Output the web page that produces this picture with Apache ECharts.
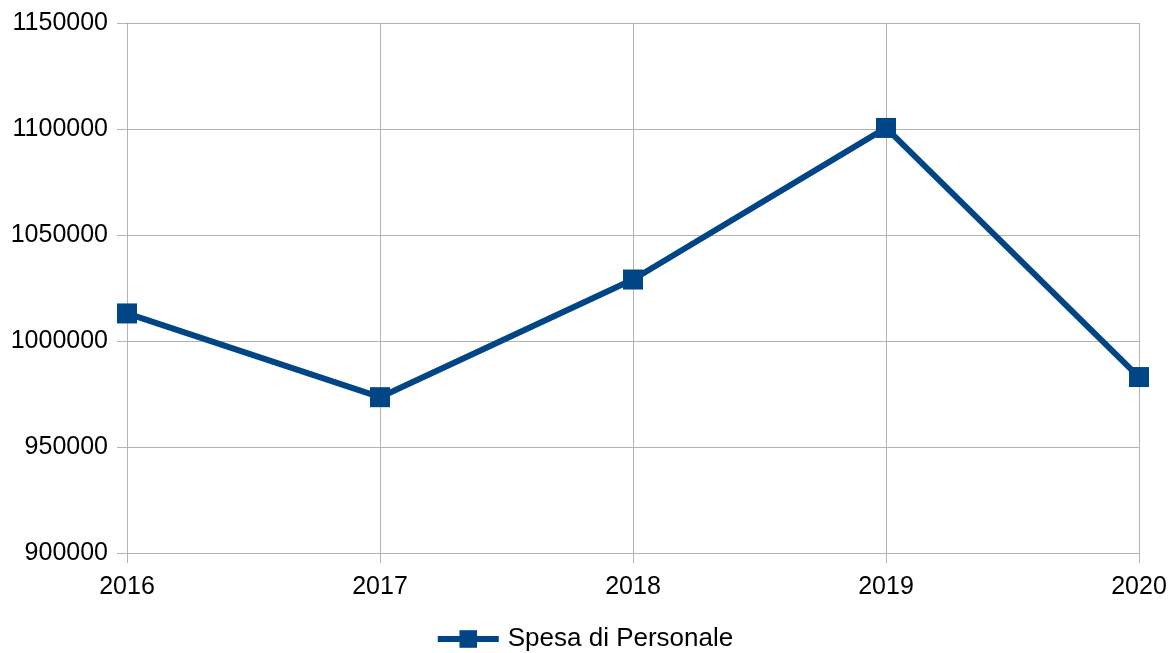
<!DOCTYPE html>
<html>
<head>
<meta charset="utf-8">
<script src="https://cdn.jsdelivr.net/npm/echarts@6/dist/echarts.min.js"></script>
<style>
  html, body { margin: 0; padding: 0; background: #fff; }
  #main { width: 1168px; height: 653px; }
</style>
</head>
<body>
<div id="main"></div>
<script>
// data
const years = ['2016', '2017', '2018', '2019', '2020'];
const spesaPersonale = [1013000, 973500, 1029000, 1100500, 983000];
const seriesName = 'Spesa di Personale';

const lineColor = '#004586';
const gridColor = '#b3b3b3';
const font = '"Liberation Sans", Arial, sans-serif';

let myChart = echarts.init(document.getElementById('main'));
let option = {
    animation: false,
    grid: {
        left: 127,
        right: 29,
        top: 23,
        bottom: 100,
        containLabel: false,
        outerBoundsMode: 'none'
    },
    legend: {
        data: [seriesName],
        bottom: -4,
        left: 'center',
        itemWidth: 61,
        itemHeight: 22,
        itemGap: 10,
        itemStyle: {color: lineColor},
        lineStyle: {color: lineColor, width: 6},
        textStyle: {fontFamily: font, fontSize: 26, color: '#000', padding: [0, 0, 0, 4]}
    },
    xAxis: {
        type: 'category',
        boundaryGap: false,
        data: years,
        axisLine: {lineStyle: {color: gridColor, width: 1}},
        axisTick: {show: true, length: 10, lineStyle: {color: gridColor}},
        splitLine: {show: true, lineStyle: {color: gridColor, width: 1}},
        axisLabel: {fontFamily: font, fontSize: 25, color: '#000', margin: 22}
    },
    yAxis: {
        type: 'value',
        min: 900000,
        max: 1150000,
        interval: 50000,
        axisLine: {show: true, lineStyle: {color: gridColor, width: 1}},
        axisTick: {show: true, length: 10, lineStyle: {color: gridColor}},
        splitLine: {show: true, lineStyle: {color: gridColor, width: 1}},
        axisLabel: {
            fontFamily: font, fontSize: 25, color: '#000', margin: 19,
            formatter: function (v) { return String(v); }
        }
    },
    series: [
        {
            name: seriesName,
            type: 'line',
            data: spesaPersonale,
            symbol: 'rect',
            symbolSize: 20,
            lineStyle: {color: lineColor, width: 6},
            itemStyle: {color: lineColor},
            emphasis: {disabled: true}
        }
    ]
};
myChart.setOption(option);
</script>
</body>
</html>
